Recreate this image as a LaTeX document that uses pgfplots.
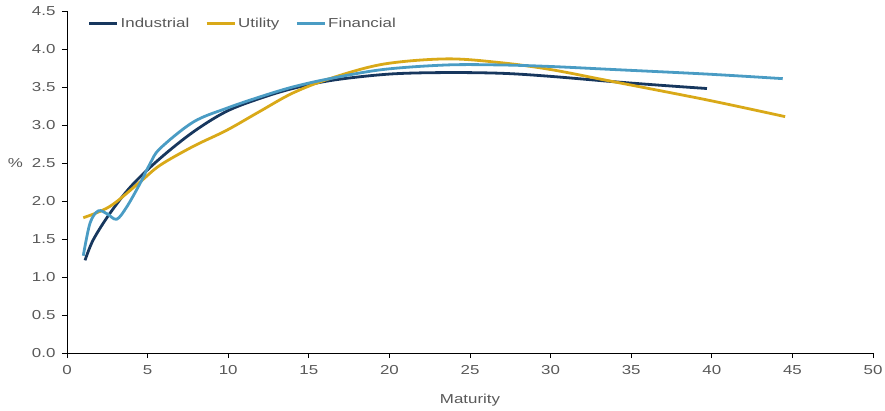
\documentclass[border=0pt]{standalone}
\usepackage{pgfplots}
\pgfplotsset{compat=1.18}
\usepackage{fontspec}
\setmainfont{Liberation Sans}[FakeStretch=1.3]
\definecolor{ind}{HTML}{17375E}
\definecolor{uti}{HTML}{D9A918}
\definecolor{fin}{HTML}{4A9CC4}
\definecolor{txt}{HTML}{595959}
\begin{document}
\fontsize{13}{15}\selectfont
\begin{tikzpicture}
\begin{axis}[
  scale only axis, width=806pt, height=342pt,
  at={(0,0)}, anchor=south west,
  xmin=0, xmax=50, ymin=0, ymax=4.5,
  xtick={0,5,...,50}, ytick={0,0.5,...,4.5},
  axis x line*=bottom, axis y line*=left,
  axis line style={black, line width=0.9pt},
  tick style={black, line width=0.9pt},
  major tick length=5pt,
  tick align=outside,
  x axis line style={-}, y axis line style={-},
  tick label style={color=txt, font=\fontsize{13}{15}\selectfont},
  xticklabel style={yshift=-3pt},
  yticklabel style={xshift=-2pt},
  /pgf/number format/assume math mode=true,
  yticklabel style={/pgf/number format/.cd, fixed, fixed zerofill, precision=1},
  xticklabel style={/pgf/number format/.cd, fixed, precision=0},
  xlabel={Maturity}, xlabel style={color=txt, font=\fontsize{13}{15}\selectfont, yshift=-10pt},
  ylabel={\%}, ylabel style={rotate=-90, color=txt, font=\fontsize{13}{15}\selectfont, at={(axis description cs:-0.064,0.555)}, anchor=center},
  legend style={at={(axis description cs:0.022,0.993)}, anchor=north west, draw=none, fill=none,
    font=\fontsize{13}{15}\selectfont, text=txt, legend columns=-1,
    /tikz/every even column/.append style={column sep=14pt}},
  legend image code/.code={\draw[#1] (0pt,0pt) -- (28pt,0pt);},
  every axis plot/.append style={line width=2.8pt, smooth, tension=0.55},
]
\addplot[ind] coordinates {(1.12,1.22) (1.63,1.49) (2.67,1.84) (4.0,2.2) (5.77,2.56) (7.84,2.91) (9.9,3.18) (11.97,3.35) (14,3.48) (16.5,3.59) (20,3.67) (23.5,3.69) (27,3.68) (30,3.64) (33.9,3.57) (37,3.52) (39.7,3.48)};
\addlegendentry{Industrial}
\addplot[uti] coordinates {(1.01,1.78) (2.67,1.93) (4.53,2.25) (5.77,2.47) (7.84,2.72) (9.9,2.93) (11.97,3.18) (14,3.42) (16.3,3.61) (19.6,3.80) (23.55,3.87) (26.9,3.82) (30,3.73) (33.9,3.57) (39.7,3.33) (44.55,3.11)};
\addlegendentry{Utility}
\addplot[fin] coordinates {(1.01,1.28) (1.43,1.71) (1.94,1.87) (2.5,1.83) (3.08,1.76) (3.7,1.92) (4.53,2.23) (5.15,2.49) (5.77,2.69) (7.84,3.04) (9.9,3.22) (11.97,3.37) (14,3.50) (16.3,3.61) (19.6,3.73) (23.55,3.79) (26.9,3.79) (30,3.77) (33.9,3.73) (39.7,3.67) (44.4,3.61)};
\addlegendentry{Financial}
\end{axis}
\pgfresetboundingbox
\path (-67pt,-57pt) rectangle (818pt,353pt);
\end{tikzpicture}
\end{document}
